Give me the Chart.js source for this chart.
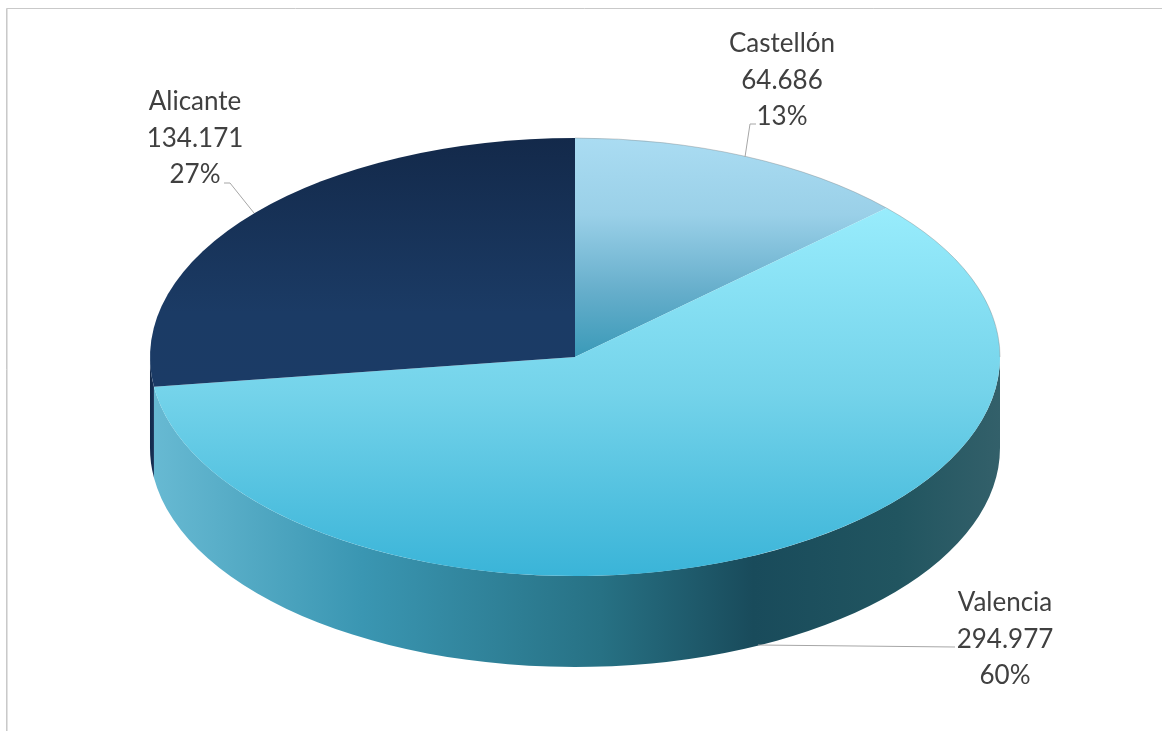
<!DOCTYPE html>
<html><head><meta charset="utf-8">
<script src="https://cdn.jsdelivr.net/npm/chart.js@4"></script>
<style>html,body{margin:0;padding:0;background:#fff}canvas{display:block}</style>
</head><body><canvas id="c" width="1162" height="731"></canvas>
<script>
const categories = ["Castellón", "Valencia", "Alicante"];
const values = [64686, 294977, 134171];
const valueLabels = ["64.686", "294.977", "134.171"];
const percentLabels = ["13%", "60%", "27%"];
const labelCenters = [[782, 52], [1005, 611], [195, 110]];
const leaders = [
  [[745, 157], [750, 124], [756, 124]],
  [[758, 645], [955, 647]],
  [[254, 213], [230, 183], [224, 183]]
];
const CY = 357, RX = 425, RY = 219, DEPTH = 91, K = RY / RX;
const LINE_H = 36.5;
const uy = s => CY + (s - CY) / K;

function sliceFill(ctx) {
  const c = ctx.chart.ctx;
  const i = ctx.dataIndex;
  let gr;
  if (i === 0) {
    gr = c.createLinearGradient(0, uy(138), 0, uy(357));
    gr.addColorStop(0, "#aadcf2"); gr.addColorStop(0.35, "#9ad0e8"); gr.addColorStop(0.7, "#66aecb"); gr.addColorStop(1, "#3a9ab8");
  } else if (i === 1) {
    gr = c.createLinearGradient(0, uy(209), 0, uy(576));
    gr.addColorStop(0, "#98ecfc"); gr.addColorStop(0.5, "#74d3ea"); gr.addColorStop(1, "#3ab4d8");
  } else {
    gr = c.createLinearGradient(0, uy(138), 0, uy(387));
    gr.addColorStop(0, "#13294a"); gr.addColorStop(0.7, "#1b3b65"); gr.addColorStop(1, "#1b3b66");
  }
  return gr;
}

const pie3d = {
  id: "pie3d",
  beforeDatasetsDraw(chart) {
    const c = chart.ctx;
    chart.getDatasetMeta(0).data.forEach((el, i) => {
      const a0 = Math.max(el.startAngle, 0), a1 = Math.min(el.endAngle, Math.PI);
      if (a1 <= a0) return;
      const rx = el.outerRadius, ry = rx * K;
      let gr = c.createLinearGradient(el.x - rx, 0, el.x + rx, 0);
      if (i === 2) {
        gr.addColorStop(0, "#13294a"); gr.addColorStop(0.01, "#1b3b66"); gr.addColorStop(1, "#1b3b66");
      } else {
        gr.addColorStop(0, "#68bad3");
        gr.addColorStop(0.25, "#3a96b2");
        gr.addColorStop(0.53, "#277184");
        gr.addColorStop(0.71, "#194b5b");
        gr.addColorStop(0.88, "#215560");
        gr.addColorStop(1, "#33606a");
      }
      c.save();
      c.beginPath();
      c.ellipse(el.x, el.y, rx, ry, 0, a0, a1);
      c.ellipse(el.x, el.y + DEPTH, rx, ry, 0, a1, a0, true);
      c.closePath();
      c.fillStyle = gr;
      c.fill();
      c.restore();
    });
    c.save();
    c.translate(0, CY); c.scale(1, K); c.translate(0, -CY);
  },
  afterDatasetsDraw(chart) {
    const c = chart.ctx;
    c.restore();
    chart.getDatasetMeta(0).data.forEach(el => {
      const rx = el.outerRadius, ry = rx * K;
      const a0 = el.startAngle, a1 = Math.min(el.endAngle, 0);
      if (a1 <= a0) return;
      c.save();
      c.beginPath();
      c.ellipse(el.x, el.y, rx, ry, 0, a0, a1);
      c.strokeStyle = "rgba(120,120,120,0.45)";
      c.lineWidth = 0.8;
      c.stroke();
      c.restore();
    });
    // frame
    c.save();
    c.strokeStyle = "#c9c9c9"; c.lineWidth = 1;
    c.beginPath(); c.moveTo(6.5, 731); c.lineTo(6.5, 8.5); c.lineTo(1162, 8.5); c.stroke();
    c.strokeStyle = "#e2e2e2";
    c.beginPath(); c.moveTo(7.5, 731); c.lineTo(7.5, 9); c.stroke();
    // leaders
    c.strokeStyle = "#a6a6a6"; c.lineWidth = 1;
    leaders.forEach(pts => {
      c.beginPath();
      pts.forEach((p, j) => j ? c.lineTo(p[0], p[1]) : c.moveTo(p[0], p[1]));
      c.stroke();
    });
    // labels
    c.fillStyle = "#404040";
    c.font = '26px Lato, "Open Sans", sans-serif';
    c.textAlign = "center"; c.textBaseline = "alphabetic";
    categories.forEach((name, i) => {
      const [x, y] = labelCenters[i];
      c.fillText(name, x, y);
      c.fillText(valueLabels[i], x, y + LINE_H);
      c.fillText(percentLabels[i], x, y + 2 * LINE_H);
    });
    c.restore();
  }
};

new Chart(document.getElementById("c"), {
  type: "pie",
  data: {
    labels: categories,
    datasets: [{ data: values, backgroundColor: sliceFill, borderWidth: 0, clip: false }]
  },
  options: {
    responsive: false,
    animation: false,
    radius: RX,
    layout: { padding: { left: 0, top: 0, right: 12, bottom: 17 } },
    plugins: { legend: { display: false }, tooltip: { enabled: false } }
  },
  plugins: [pie3d]
});
</script></body></html>
